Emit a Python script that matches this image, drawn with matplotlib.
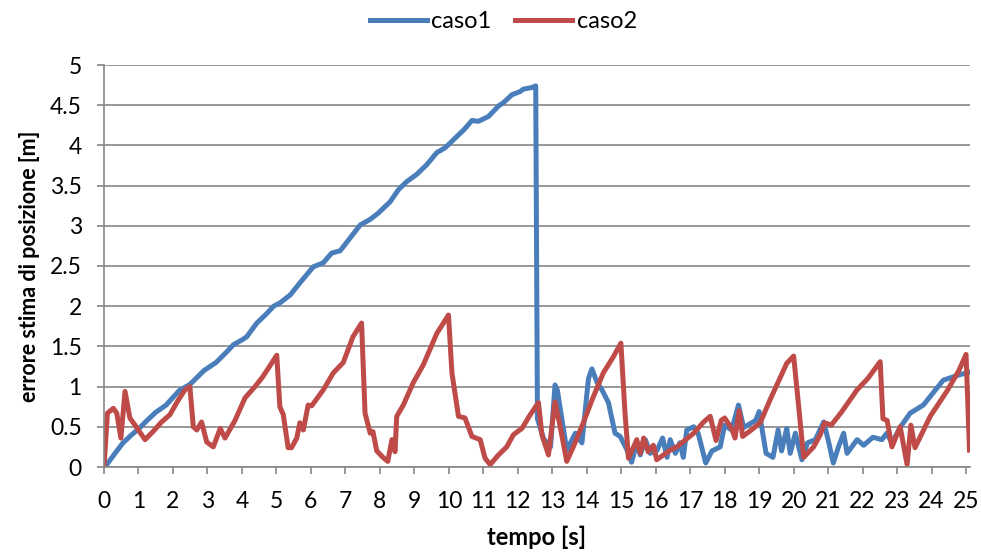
import matplotlib
matplotlib.use("Agg")
import matplotlib.pyplot as plt

# ---- data ----
t_caso1 = [0, 0.08, 0.32, 0.55, 0.8, 1.02, 1.25, 1.5, 1.8, 2.18, 2.5, 2.9, 3.25, 3.6, 3.75,
           4.0, 4.14, 4.43, 4.7, 4.92, 5.1, 5.4, 5.7, 6.07, 6.36, 6.6, 6.85, 7.14, 7.43, 7.72,
           7.96, 8.3, 8.54, 8.78, 9.07, 9.36, 9.65, 9.89, 10.04, 10.23, 10.45, 10.67, 10.86,
           11.15, 11.44, 11.58, 11.83, 12.07, 12.16, 12.41, 12.52, 12.57, 12.75, 12.95, 13.08,
           13.15, 13.42, 13.67, 13.86, 14.05, 14.15, 14.3, 14.44, 14.63, 14.82, 14.97, 15.17,
           15.3, 15.45, 15.55, 15.7, 15.84, 16.04, 16.2, 16.33, 16.42, 16.57, 16.7, 16.8, 16.9,
           17.1, 17.23, 17.45, 17.63, 17.87, 18.0, 18.2, 18.4, 18.55, 18.9, 19.0, 19.2, 19.4,
           19.55, 19.65, 19.8, 19.9, 20.05, 20.24, 20.4, 20.63, 20.87, 21.0, 21.15, 21.3, 21.45,
           21.55, 21.84, 22.03, 22.3, 22.56, 22.7, 22.85, 23.1, 23.38, 23.76, 24.34, 24.83, 25.12]
caso1 = [0, 0.03, 0.17, 0.3, 0.4, 0.48, 0.58, 0.68, 0.77, 0.95, 1.03, 1.2, 1.3, 1.45, 1.52,
         1.58, 1.62, 1.79, 1.9, 2.0, 2.04, 2.14, 2.3, 2.49, 2.54, 2.66, 2.69, 2.85, 3.01, 3.08,
         3.16, 3.3, 3.45, 3.55, 3.64, 3.76, 3.91, 3.97, 4.03, 4.11, 4.2, 4.31, 4.3,
         4.36, 4.49, 4.53, 4.63, 4.67, 4.7, 4.72, 4.74, 0.6, 0.35, 0.25, 1.02,
         0.95, 0.21, 0.42, 0.3, 1.1, 1.22, 1.05, 0.96, 0.8, 0.42, 0.38, 0.21,
         0.06, 0.3, 0.15, 0.34, 0.17, 0.21, 0.36, 0.12, 0.34, 0.17, 0.3, 0.12, 0.46,
         0.5, 0.42, 0.05, 0.2, 0.25, 0.52, 0.46, 0.77, 0.49, 0.58, 0.69, 0.17, 0.12,
         0.46, 0.2, 0.48, 0.17, 0.42, 0.09, 0.3, 0.34, 0.56, 0.34, 0.05, 0.25, 0.42,
         0.17, 0.34, 0.27, 0.37, 0.34, 0.42, 0.3, 0.5, 0.67, 0.77, 1.08, 1.15, 1.18]

t_caso2 = [0, 0.1, 0.27, 0.37, 0.49, 0.61, 0.75, 0.9, 1.19, 1.42, 1.67, 1.91, 2.15, 2.35, 2.49,
           2.59, 2.69, 2.83, 2.98, 3.17, 3.37, 3.51, 3.8, 4.09, 4.38, 4.6, 4.8, 5.01, 5.1, 5.2,
           5.34, 5.44, 5.59, 5.68, 5.78, 5.92, 6.02, 6.36, 6.65, 6.94, 7.22, 7.47, 7.57, 7.72,
           7.8, 7.91, 8.09, 8.23, 8.35, 8.44, 8.49, 8.68, 8.97, 9.26, 9.65, 9.99, 10.09, 10.28,
           10.47, 10.67, 10.91, 11.05, 11.2, 11.44, 11.68, 11.87, 12.12, 12.36, 12.6, 12.7,
           12.89, 13.08, 13.23, 13.42, 13.61, 13.9, 14.15, 14.48, 14.77, 14.99, 15.11, 15.21,
           15.36, 15.45, 15.55, 15.65, 15.78, 15.93, 16.03, 16.42, 16.61, 17.1, 17.39, 17.58,
           17.75, 17.9, 18.0, 18.2, 18.3, 18.42, 18.52, 18.77, 19.03, 19.32, 19.61, 19.8, 20.0,
           20.14, 20.29, 20.58, 20.77, 20.9, 21.09, 21.4, 21.84, 22.15, 22.51, 22.59, 22.71,
           22.85, 23.09, 23.29, 23.4, 23.52, 23.96, 24.44, 24.78, 25.0, 25.1]
caso2 = [0, 0.67, 0.73, 0.67, 0.36, 0.94, 0.61, 0.52, 0.34, 0.44, 0.56, 0.65, 0.83, 0.96, 1.0,
         0.5, 0.46, 0.56, 0.31, 0.25, 0.48, 0.36, 0.58, 0.86, 1.0, 1.12, 1.25, 1.39, 0.75, 0.65,
         0.24, 0.24, 0.36, 0.55, 0.46, 0.77, 0.76, 0.96, 1.17, 1.3, 1.62, 1.79, 0.67, 0.42,
         0.44, 0.2, 0.12, 0.07, 0.34, 0.19, 0.63, 0.77, 1.05, 1.27, 1.66, 1.89, 1.17, 0.63,
         0.61, 0.38, 0.34, 0.11, 0.03, 0.15, 0.25, 0.4, 0.48, 0.65, 0.8, 0.4,
         0.15, 0.81, 0.5, 0.07, 0.25, 0.55, 0.83, 1.17, 1.37, 1.54, 0.67, 0.11,
         0.25, 0.34, 0.17, 0.36, 0.19, 0.27, 0.09, 0.21, 0.25, 0.42, 0.56, 0.63,
         0.33, 0.58, 0.61, 0.48, 0.36, 0.7, 0.38, 0.46, 0.55, 0.84, 1.11, 1.29, 1.38,
         0.78, 0.12, 0.25, 0.4, 0.55, 0.52, 0.69, 0.96, 1.1, 1.31, 0.6, 0.58,
         0.25, 0.5, 0.03, 0.52, 0.24, 0.63, 0.94, 1.19, 1.4, 0.21]

x_ticks = list(range(0, 26))
y_ticks = [0, 0.5, 1, 1.5, 2, 2.5, 3, 3.5, 4, 4.5, 5]
y_tick_labels = ["0", "0.5", "1", "1.5", "2", "2.5", "3", "3.5", "4", "4.5", "5"]

# ---- style ----
plt.rcParams['font.family'] = ['Lato', 'DejaVu Sans']
GRID = '#868686'
BLUE = '#4A7EBB'
RED = '#BE4B48'

fig = plt.figure(figsize=(9.81, 5.55), dpi=100)
ax = fig.add_axes([104 / 981, 1 - 467 / 555, (969.5 - 104) / 981, (467 - 65) / 555])

ax.plot(t_caso1, caso1, color=BLUE, lw=3.6, label='caso1', solid_joinstyle='round')
ax.plot(t_caso2, caso2, color=RED, lw=3.6, label='caso2', solid_joinstyle='round')

ax.set_xlim(0, 25.1)
ax.set_ylim(0, 5)
ax.set_xticks(x_ticks)
ax.set_yticks(y_ticks)
ax.set_yticklabels(y_tick_labels)
ax.yaxis.grid(True, color=GRID, lw=1.2)
ax.set_axisbelow(True)
for s in ['top', 'right']:
    ax.spines[s].set_visible(False)
for s in ['left', 'bottom']:
    ax.spines[s].set_color(GRID)
    ax.spines[s].set_linewidth(1.2)
ax.tick_params(axis='both', colors=GRID, labelcolor='black', labelsize=16.5,
               length=5, width=1.2, direction='out')
ax.tick_params(axis='x', pad=12)
ax.tick_params(axis='y', pad=11)

ax.set_xlabel('tempo [s]', fontsize=17, fontweight='bold', labelpad=10)
ax.set_ylabel('errore stima di posizione [m]', fontsize=15.5, fontweight='bold', labelpad=7)

fig.legend(loc='upper center', bbox_to_anchor=(0.513, 1.018), ncol=2, frameon=False,
           fontsize=17, handlelength=2.4, handletextpad=0.2, columnspacing=1.0)

fig.savefig('out.png', dpi=100)
